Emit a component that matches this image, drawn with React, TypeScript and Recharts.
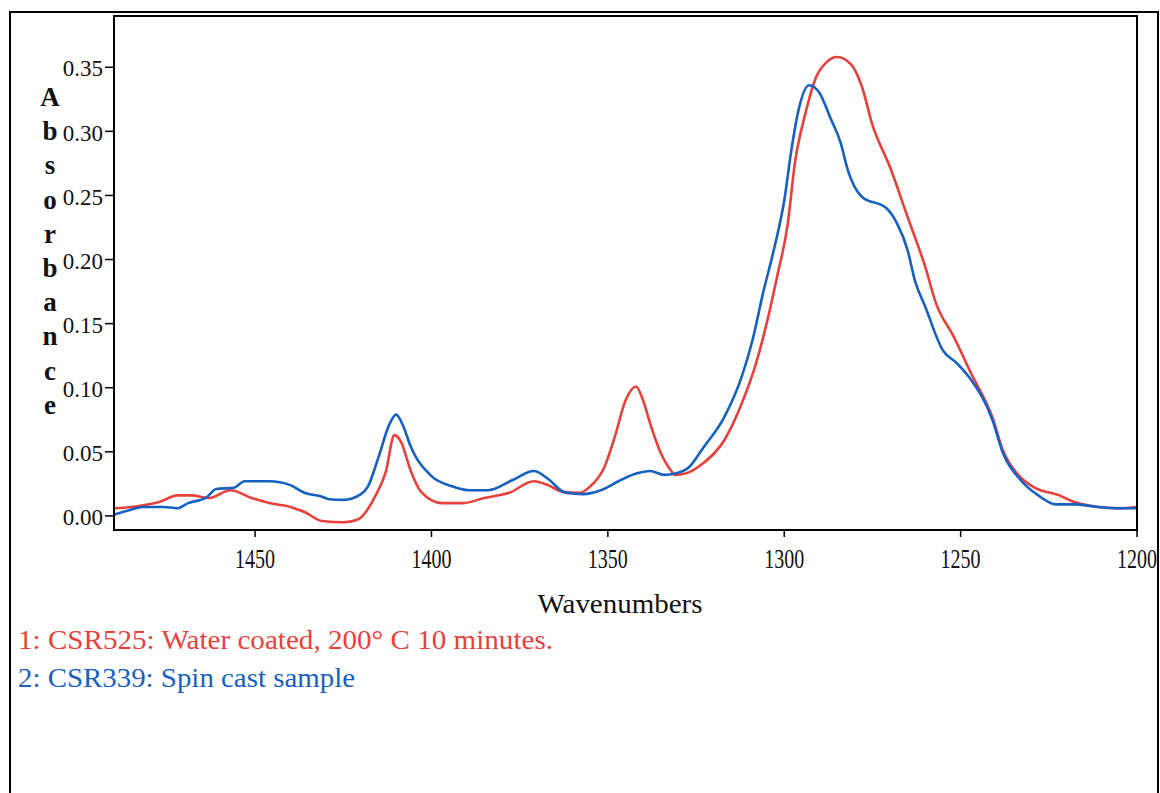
import { Line, LineChart, XAxis, YAxis } from "recharts";

// wavenumber / absorbance pairs
const redWavenumbers = [
  1490, 1485, 1477, 1472, 1468, 1463, 1457, 1451, 1446, 1440, 1436, 1431, 1425, 1421, 1416,
  1413, 1410.5, 1408.5, 1406, 1403, 1397, 1391, 1385, 1378, 1371, 1367, 1363, 1358, 1355,
  1351, 1348, 1345, 1342, 1340, 1338, 1335, 1332, 1331, 1328, 1323, 1317, 1312, 1308, 1305,
  1302, 1299, 1297, 1294, 1291, 1288, 1285, 1281, 1278, 1275, 1270, 1265, 1260, 1257, 1252,
  1247, 1241, 1238, 1234, 1229, 1222, 1218, 1211, 1205, 1200,
];
const redAbsorbance = [
  0.006, 0.007, 0.011, 0.016, 0.016, 0.014, 0.02, 0.014, 0.01, 0.007, 0.003, -0.004, -0.005,
  -0.003, 0.015, 0.034, 0.063, 0.057, 0.036, 0.019, 0.01, 0.01, 0.014, 0.018, 0.027, 0.024,
  0.019, 0.018, 0.023, 0.038, 0.062, 0.09, 0.101, 0.09, 0.072, 0.049, 0.035, 0.032, 0.033,
  0.041, 0.059, 0.088, 0.119, 0.15, 0.187, 0.228, 0.275, 0.314, 0.342, 0.354, 0.358, 0.352,
  0.335, 0.305, 0.272, 0.233, 0.194, 0.166, 0.14, 0.111, 0.077, 0.051, 0.033, 0.022, 0.016,
  0.011, 0.007, 0.006, 0.007,
];

const blueWavenumbers = [
  1490, 1485, 1482, 1476, 1472, 1469, 1464, 1461, 1456, 1453, 1446, 1440, 1436, 1431, 1429,
  1425, 1420, 1418, 1415, 1412, 1410, 1408, 1406, 1400, 1394, 1389, 1384, 1377, 1371, 1367,
  1362, 1357, 1352, 1347, 1342, 1338, 1334, 1331, 1327, 1323, 1317, 1312, 1309, 1306, 1303,
  1300, 1298, 1296, 1293, 1290, 1287, 1284, 1282, 1278, 1271, 1268, 1265, 1263, 1260, 1255,
  1251, 1247, 1241, 1238, 1233, 1228, 1223, 1218, 1211, 1205, 1200,
];
const blueAbsorbance = [
  0.001, 0.005, 0.007, 0.007, 0.006, 0.01, 0.014, 0.021, 0.022, 0.027, 0.027, 0.024, 0.018,
  0.015, 0.013, 0.0125, 0.017, 0.023, 0.046, 0.071, 0.079, 0.07, 0.055, 0.031, 0.023, 0.02,
  0.02, 0.028, 0.035, 0.029, 0.018, 0.017, 0.02, 0.027, 0.033, 0.035, 0.032, 0.033, 0.038,
  0.053, 0.077, 0.109, 0.137, 0.174, 0.207, 0.246, 0.285, 0.316, 0.336, 0.33, 0.311, 0.291,
  0.27, 0.249, 0.24, 0.228, 0.207, 0.184, 0.163, 0.129, 0.119, 0.106, 0.075, 0.049, 0.028,
  0.016, 0.009, 0.009, 0.007, 0.006, 0.006,
];

const xTicks = [1450, 1400, 1350, 1300, 1250, 1200];
const yTicks = [0, 0.05, 0.1, 0.15, 0.2, 0.25, 0.3, 0.35];
const yLabel = "Absorbance";

const legendRed = "1: CSR525: Water coated, 200° C 10 minutes.";
const legendBlue = "2: CSR339: Spin cast sample";

const RED = "#E8413B";
const BLUE = "#1660C4";
const SERIF = '"Liberation Serif", "Times New Roman", serif';

const redData = redWavenumbers.map((w, i) => ({ w, a: redAbsorbance[i] }));
const blueData = blueWavenumbers.map((w, i) => ({ w, a: blueAbsorbance[i] }));

function XTick({ x, y, payload }: any) {
  return (
    <text
      x={x}
      y={y + 29}
      textAnchor="middle"
      fontFamily={SERIF}
      fontSize={27}
      fill="#111"
      textLength={40}
      lengthAdjust="spacingAndGlyphs"
    >
      {payload.value}
    </text>
  );
}

function YTick({ x, y, payload }: any) {
  return (
    <text x={x} y={y} dy="0.4em" textAnchor="end" fontFamily={SERIF} fontSize={23} fill="#111">
      {Number(payload.value).toFixed(2)}
    </text>
  );
}

function YLabel() {
  return (
    <text fontFamily={SERIF} fontSize={27} fontWeight="bold" fill="#111" textAnchor="middle">
      {yLabel.split("").map((ch, i) => (
        <tspan key={i} x={50} y={106 + i * 34.2}>
          {ch}
        </tspan>
      ))}
    </text>
  );
}

function XLabel() {
  return (
    <text
      x={620}
      y={613}
      textAnchor="middle"
      fontFamily={SERIF}
      fontSize={27}
      fill="#111"
      textLength={165}
      lengthAdjust="spacingAndGlyphs"
    >
      Wavenumbers
    </text>
  );
}

export default function App() {
  return (
    <div style={{ position: "absolute", left: 0, top: 0, width: 1160, height: 793, background: "#fff" }}>
      <LineChart width={1160} height={793} margin={{ top: 16, right: 23, bottom: 233, left: 54 }}>
        <XAxis
          dataKey="w"
          type="number"
          domain={[1200, 1490]}
          reversed
          allowDataOverflow
          ticks={xTicks}
          tick={<XTick />}
          tickSize={7}
          height={30}
          axisLine={{ stroke: "#000", strokeWidth: 2 }}
          tickLine={{ stroke: "#000", strokeWidth: 1.5 }}
          label={<XLabel />}
        />
        <YAxis
          type="number"
          domain={[-0.011, 0.39]}
          allowDataOverflow
          ticks={yTicks}
          tick={<YTick />}
          tickSize={9}
          width={60}
          axisLine={{ stroke: "#000", strokeWidth: 2 }}
          tickLine={{ stroke: "#000", strokeWidth: 1.5 }}
          label={<YLabel />}
        />
        <Line
          data={redData}
          dataKey="a"
          type="monotone"
          stroke={RED}
          strokeWidth={2.6}
          dot={false}
          isAnimationActive={false}
        />
        <Line
          data={blueData}
          dataKey="a"
          type="monotone"
          stroke={BLUE}
          strokeWidth={2.6}
          dot={false}
          isAnimationActive={false}
        />
      </LineChart>
      <svg width={1160} height={793} style={{ position: "absolute", left: 0, top: 0, pointerEvents: "none" }}>
        {/* page frame and plot frame */}
        <rect x={10} y={12} width={1148} height={800} fill="none" stroke="#000" strokeWidth={2} />
        <rect x={114} y={16} width={1023} height={514} fill="none" stroke="#000" strokeWidth={2} />
        <text x={18} y={649} fontFamily={SERIF} fontSize={27} fill={RED} textLength={535} lengthAdjust="spacingAndGlyphs">
          {legendRed}
        </text>
        <text x={18} y={687} fontFamily={SERIF} fontSize={27} fill={BLUE} textLength={337} lengthAdjust="spacingAndGlyphs">
          {legendBlue}
        </text>
      </svg>
    </div>
  );
}
